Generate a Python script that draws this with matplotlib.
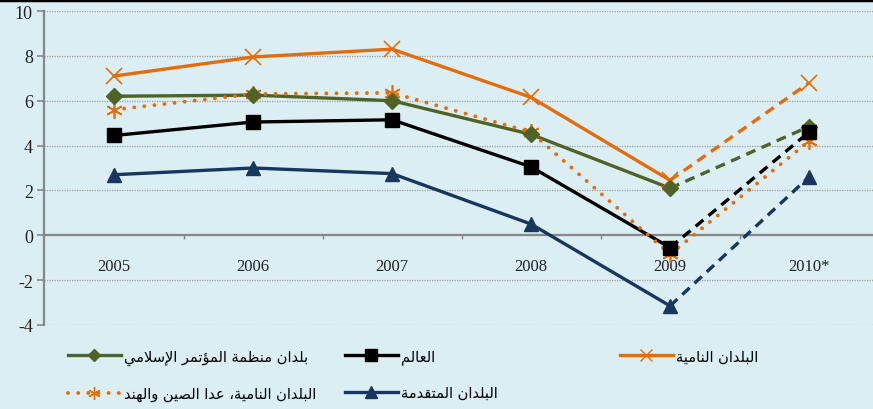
import matplotlib
matplotlib.use("Agg")
import matplotlib.pyplot as plt
from matplotlib.lines import Line2D

plt.rcParams["axes.unicode_minus"] = False

# data
years = ["2005", "2006", "2007", "2008", "2009", "2010*"]
developing = [7.1, 7.95, 8.3, 6.15, 2.45, 6.8]
oic = [6.2, 6.25, 6.0, 4.5, 2.1, 4.85]
world = [4.45, 5.05, 5.15, 3.05, -0.55, 4.6]
dev_ex_cn_in = [5.6, 6.3, 6.35, 4.6, -0.85, 4.2]
advanced = [2.7, 3.0, 2.75, 0.5, -3.15, 2.6]

lbl_developing = "البلدان النامية"
lbl_world = "العالم"
lbl_oic = "بلدان منظمة المؤتمر الإسلامي"
lbl_dev_ex = "البلدان النامية، عدا الصين والهند"
lbl_advanced = "البلدان المتقدمة"

# simple arabic shaping (presentation forms) + reversal, no reshaper lib here
FORMS = {
    'ا': ('\uFE8D', '\uFE8E', None, None),
    'إ': ('\uFE87', '\uFE88', None, None),
    'ؤ': ('\uFE85', '\uFE86', None, None),
    'ب': ('\uFE8F', '\uFE90', '\uFE91', '\uFE92'),
    'ة': ('\uFE93', '\uFE94', None, None),
    'ت': ('\uFE95', '\uFE96', '\uFE97', '\uFE98'),
    'د': ('\uFEA9', '\uFEAA', None, None),
    'ر': ('\uFEAD', '\uFEAE', None, None),
    'س': ('\uFEB1', '\uFEB2', '\uFEB3', '\uFEB4'),
    'ص': ('\uFEB9', '\uFEBA', '\uFEBB', '\uFEBC'),
    'ظ': ('\uFEC5', '\uFEC6', '\uFEC7', '\uFEC8'),
    'ع': ('\uFEC9', '\uFECA', '\uFECB', '\uFECC'),
    'ق': ('\uFED5', '\uFED6', '\uFED7', '\uFED8'),
    'ل': ('\uFEDD', '\uFEDE', '\uFEDF', '\uFEE0'),
    'م': ('\uFEE1', '\uFEE2', '\uFEE3', '\uFEE4'),
    'ن': ('\uFEE5', '\uFEE6', '\uFEE7', '\uFEE8'),
    'ه': ('\uFEE9', '\uFEEA', '\uFEEB', '\uFEEC'),
    'و': ('\uFEED', '\uFEEE', None, None),
    'ي': ('\uFEF1', '\uFEF2', '\uFEF3', '\uFEF4'),
}
LAMALEF = {'ا': ('\uFEFB', '\uFEFC'), 'إ': ('\uFEF9', '\uFEFA')}


def ar(text):
    ch = list(text)
    res = []
    i = 0
    while i < len(ch):
        c = ch[i]
        if c not in FORMS:
            res.append(c)
            i += 1
            continue
        prev = ch[i - 1] if i > 0 else None
        prev_joins = prev in FORMS and FORMS[prev][2] is not None
        if c == 'ل' and i + 1 < len(ch) and ch[i + 1] in LAMALEF:
            lig = LAMALEF[ch[i + 1]]
            res.append(lig[1] if prev_joins else lig[0])
            i += 2
            continue
        nxt = ch[i + 1] if i + 1 < len(ch) else None
        next_joins = FORMS[c][2] is not None and nxt in FORMS
        iso, fin, ini, med = FORMS[c]
        if prev_joins and next_joins:
            res.append(med)
        elif prev_joins:
            res.append(fin)
        elif next_joins:
            res.append(ini)
        else:
            res.append(iso)
        i += 1
    return ''.join(reversed(res))


bg = "#DAEEF3"
c_orange = "#E46C0A"
c_green = "#4F6228"
c_navy = "#17375E"
dots = (0, (0.01, 2.6))

fig = plt.figure(figsize=(8.73, 4.10), dpi=100, facecolor=bg)
ax = fig.add_axes([0.0504, 0.2049, 0.9496, 0.7658], facecolor=bg)

x = list(range(len(years)))
series = [
    (developing, c_orange, "x", 11, 1.2, "-"),
    (oic, c_green, "D", 8.5, 1, "-"),
    (world, "black", "s", 9.5, 1, "-"),
    (dev_ex_cn_in, c_orange, (6, 2, 0), 12, 1.2, ":"),
    (advanced, c_navy, "^", 10, 1, "-"),
]
for vals, col, mk, ms, mew, ls in series:
    if ls == ":":
        ax.plot(x, vals, color=col, lw=2.8, ls=dots, dash_capstyle="round",
                marker=mk, ms=ms, mew=mew, mec=col, mfc=col, zorder=3)
    else:
        ax.plot(x[:5], vals[:5], color=col, lw=2.4, ls="-", zorder=3)
        ax.plot(x[4:], vals[4:], color=col, lw=2.4, ls=(0, (3, 2)), zorder=3)
        ax.plot(x, vals, ls="none", marker=mk, ms=ms, mew=mew, mec=col, mfc=col, zorder=4)

ax.set_ylim(-4, 10)
ax.set_xlim(-0.504, 5.46)
ax.set_yticks(range(-4, 11, 2))
ax.yaxis.grid(True, color="#a0a0a0", ls=(0, (1, 1)), lw=0.9)
ax.set_axisbelow(True)

for s in ["top", "right"]:
    ax.spines[s].set_visible(False)
ax.spines["left"].set_color("#878787")
ax.spines["left"].set_linewidth(1.6)
ax.spines["bottom"].set_position(("data", 0))
ax.spines["bottom"].set_color("#878787")
ax.spines["bottom"].set_linewidth(1.6)
ax.spines["bottom"].set_zorder(2.5)

ax.set_xticks(x)
ax.set_xticklabels(years)
ax.set_xticks([i + 0.5 for i in x[:-1]], minor=True)
ax.tick_params(axis="x", which="major", length=0, pad=16, labelsize=12)
ax.tick_params(axis="x", which="minor", length=3, width=1, color="#878787", direction="out")
ax.tick_params(axis="y", length=5, width=1.2, color="#878787", pad=3, labelsize=13)
for t in ax.get_xticklabels() + ax.get_yticklabels():
    t.set_fontfamily("Liberation Serif")
    t.set_color("#222222")

fig.add_artist(Line2D([0, 1], [0.998, 0.998], color="black", lw=2.5))


def handle(col, mk, ms, ls, lw=2.4):
    return Line2D([], [], color=col, lw=lw, ls=ls, marker=mk, ms=ms, mec=col, mfc=col,
                  dash_capstyle="round")


h_dev = handle(c_orange, "x", 8, "-")
h_oic = handle(c_green, "D", 6, "-")
h_world = handle("black", "s", 8, "-")
h_ex = handle(c_orange, (6, 2, 0), 9, dots, 2.8)
h_adv = handle(c_navy, "^", 8, "-")

leg_kw = dict(loc="upper left", frameon=False, borderpad=0, borderaxespad=0,
              handlelength=3.6, handletextpad=0.25, labelspacing=1.45,
              prop={"family": "DejaVu Sans", "size": 10.5})
columns = [
    ([h_oic, h_ex], [lbl_oic, lbl_dev_ex], 68),
    ([h_world, h_adv], [lbl_world, lbl_advanced], 345),
    ([h_dev], [lbl_developing], 620),
]
for hs, ls_, px in columns:
    fig.legend(hs, [ar(s) for s in ls_], bbox_to_anchor=(px / 873, 0.148), **leg_kw)

fig.savefig("out.png", dpi=100, facecolor=bg)
